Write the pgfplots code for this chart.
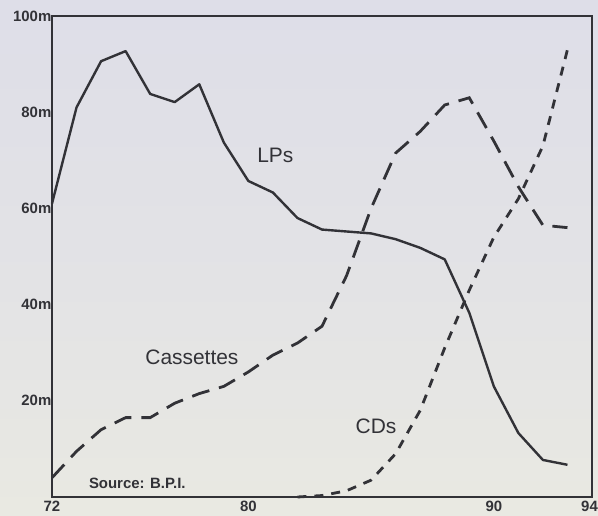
\documentclass[border=0pt]{standalone}
\usepackage{pgfplots}
\pgfplotsset{compat=1.18}
\usepackage{fontspec}
\setmainfont{Liberation Sans}
\definecolor{bgtop}{RGB}{222,222,232}
\definecolor{bgbot}{RGB}{233,233,226}
\definecolor{ink}{RGB}{50,50,55}
\begin{document}
\begin{tikzpicture}
\shade[top color=bgtop, bottom color=bgbot, middle color=bgtop!60!bgbot] (-52bp,-19bp) rectangle (546bp,497bp);
\begin{axis}[
  at={(0,0)}, anchor=south west,
  scale only axis, width=540bp, height=481bp,
  xmin=72, xmax=94, ymin=0, ymax=100,
  xtick={72,80,90,94}, ytick={20,40,60,80,100},
  xticklabels={72,80,90,\hspace*{-5bp}94},
  yticklabels={20m,40m,60m,80m,100m},
  major tick length=0pt,
  axis line style={ink, line width=2.6bp},
  tick label style={font=\fontsize{15}{15}\selectfont\bfseries, text=ink},
  /pgf/number format/assume math mode=true,
  yticklabel style={inner sep=0.5bp},
  xticklabel style={inner sep=0bp, yshift=-4bp},
  clip=false,
]
\addplot[ink, line width=2.4bp, line join=round] coordinates {
 (72,61) (73,81) (74,90.6) (75,92.7) (76,83.8) (77,82.1) (78,85.8) (79,73.7)
 (80,65.7) (81,63.3) (82,58) (83,55.6) (84,55.2) (85,54.8) (86,53.6) (87,51.8)
 (88,49.4) (89,38.3) (90,23) (91,13.3) (92,7.7) (93,6.7)};
\addplot[ink, line width=2.8bp, dash pattern=on 18bp off 10bp] coordinates {
 (72,4) (73,9.5) (74,14) (75,16.5) (76,16.5) (77,19.5) (78,21.5) (79,23)
 (80,26) (81,29.5) (82,32) (83,35.5) (84,46) (85,60) (86,71.5) (87,76)
 (88,81.5) (89,83) (90,74) (91,64.5) (92,56.5) (93,56)};
\addplot[ink, line width=2.8bp, dash pattern=on 9bp off 8bp] coordinates {
 (82,0) (83,0.3) (84,1.3) (85,3.5) (86,9) (87,18) (88,31) (89,43) (90,54)
 (91,62) (92,73) (93,93)};
\node[ink, font=\fontsize{21}{21}\selectfont] at (axis cs:81.1,71) {LPs};
\node[ink, font=\fontsize{21}{21}\selectfont] at (axis cs:77.7,29) {Cassettes};
\node[ink, font=\fontsize{21}{21}\selectfont] at (axis cs:85.2,14.8) {CDs};
\node[ink, anchor=west, inner sep=0pt, font=\fontsize{15}{15}\selectfont\bfseries] at (axis cs:73.5,2.9) {Source: B.P.I.};
\end{axis}
\pgfresetboundingbox
\path[use as bounding box] (-52bp,-19bp) rectangle (546bp,497bp);
\end{tikzpicture}
\end{document}
